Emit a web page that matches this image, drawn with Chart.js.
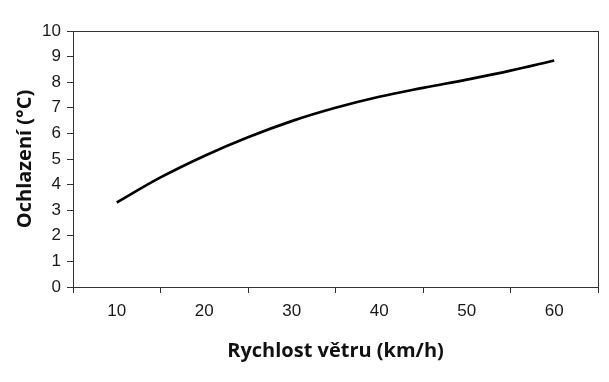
<!DOCTYPE html>
<html>
<head>
<meta charset="utf-8">
<script src="https://cdn.jsdelivr.net/npm/chart.js@4"></script>
<style>
  html, body { margin: 0; padding: 0; background: #fff; }
  #wrap { width: 609px; height: 382px; }
</style>
</head>
<body>
<div id="wrap"><canvas id="c" width="609" height="382"></canvas></div>
<script>
const windSpeed = [10, 15, 20, 25, 30, 35, 40, 45, 50, 55, 60];
const cooling = [3.3, 4.28, 5.12, 5.85, 6.48, 7.0, 7.43, 7.78, 8.1, 8.45, 8.85];
const xTitle = 'Rychlost větru (km/h)';
const yTitle = 'Ochlazení (°C)';

const axisColor = '#333';
const titleFont = 'Open Sans';

function draw() {
  const points = windSpeed.map((x, i) => ({ x: x, y: cooling[i] }));
  new Chart(document.getElementById('c'), {
    type: 'line',
    data: {
      datasets: [{
        data: points,
        borderColor: '#000',
        borderWidth: 2.7,
        pointRadius: 0,
        tension: 0.4,
        fill: false
      }]
    },
    options: {
      responsive: false,
      animation: false,
      layout: { padding: { top: 31, right: 11, bottom: 0, left: 0 } },
      plugins: { legend: { display: false }, tooltip: { enabled: false } },
      scales: {
        x: {
          type: 'linear',
          min: 5,
          max: 65,
          afterFit: s => { s.height = 95; },
          border: { color: axisColor, width: 1 },
          grid: {
            drawOnChartArea: true,
            color: c => (c.tick && c.tick.value === 65) ? axisColor : 'rgba(0,0,0,0)',
            tickColor: c => (c.tick && c.tick.value % 10 === 0) ? 'rgba(0,0,0,0)' : axisColor,
            tickLength: 6
          },
          ticks: {
            stepSize: 5,
            autoSkip: false,
            maxRotation: 0,
            padding: 8,
            color: '#1a1a1a',
            font: { family: 'Liberation Sans', size: 17 },
            callback: v => (v % 10 === 0 ? String(v) : '')
          },
          title: {
            display: true,
            text: xTitle,
            color: '#111',
            font: { family: titleFont, size: 20, weight: 'bold' },
            padding: { top: 4, bottom: 19 }
          }
        },
        y: {
          min: 0,
          max: 10,
          afterFit: s => { s.width = 73; },
          border: { color: axisColor, width: 1 },
          grid: {
            drawOnChartArea: true,
            color: c => (c.tick && c.tick.value === 10) ? axisColor : 'rgba(0,0,0,0)',
            tickColor: axisColor,
            tickLength: 6
          },
          ticks: {
            stepSize: 1,
            padding: 6,
            color: '#1a1a1a',
            font: { family: 'Liberation Sans', size: 17 }
          },
          title: {
            display: true,
            text: yTitle,
            color: '#111',
            font: { family: titleFont, size: 20, weight: 'bold' },
            padding: { top: 13, bottom: 0 }
          }
        }
      }
    }
  });
}

if (document.fonts && document.fonts.load) {
  Promise.all([
    document.fonts.load('bold 20px "Open Sans"'),
    document.fonts.load('17px "Liberation Sans"')
  ]).then(draw, draw);
} else {
  draw();
}
</script>
</body>
</html>
